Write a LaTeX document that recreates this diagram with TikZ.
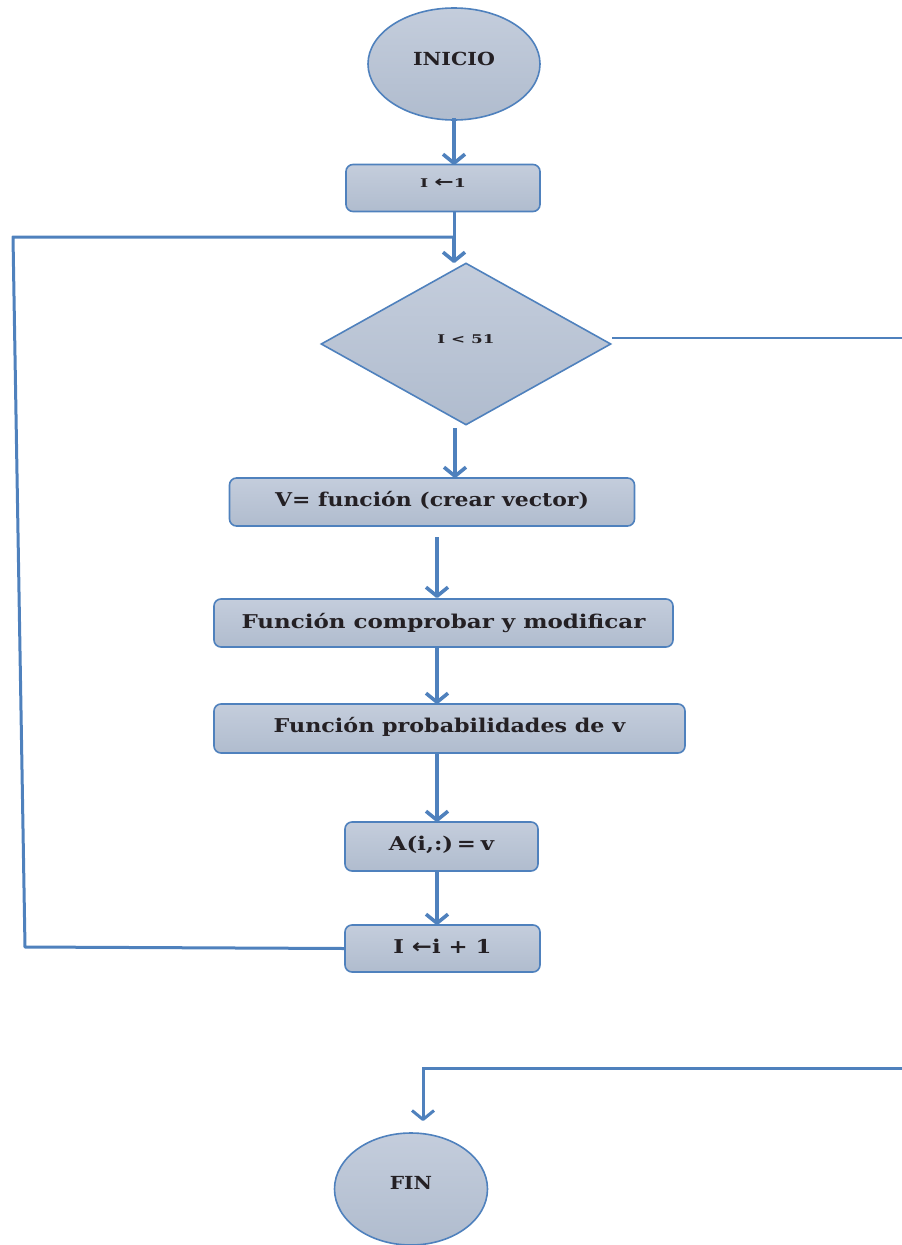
\documentclass[tikz,border=0pt]{standalone}
\usepackage{graphicx}
\usepackage{fontspec}
\setmainfont{DejaVu Serif}
\newfontfamily\symfont{DejaVu Sans}
\usetikzlibrary{shapes.geometric,arrows.meta}
\definecolor{edgeblue}{RGB}{79,129,189}
\definecolor{filltop}{RGB}{196,205,220}
\definecolor{fillbot}{RGB}{176,188,206}
\definecolor{inkdark}{RGB}{36,32,36}
% horizontally widened label text
\newcommand\widetxt[2]{\scalebox{#1}[1]{#2}}
\newcommand\larrow[1]{{\symfont\bfseries\fontsize{#1}{#1}\selectfont ←}}
\begin{document}
\begin{tikzpicture}[x=1pt,y=-1pt,
  shapebase/.style={draw=edgeblue,line width=1.6pt,top color=filltop,bottom color=fillbot,
    inner sep=0pt,text=inkdark,font=\bfseries},
  procbox/.style={shapebase,rectangle,rounded corners=7pt},
  term/.style={shapebase,ellipse},
  decide/.style={shapebase,diamond},
  bigtxt/.style={font=\bfseries\fontsize{19}{22}\selectfont},
  smalltxt/.style={font=\bfseries\fontsize{12}{14}\selectfont},
  flow/.style={draw=edgeblue,line width=3.6pt,
    -{Straight Barb[length=9pt,width=22pt,line join=round]}},
  link/.style={draw=edgeblue,line width=3pt},
  thin link/.style={draw=edgeblue,line width=2pt}]
\useasboundingbox (0,0) rectangle (902,1245);
\clip (0,0) rectangle (902,1245);

% terminals
\node[term,minimum width=172pt,minimum height=112pt,font=\bfseries\fontsize{18}{20}\selectfont]
  (inicio) at (454,64) {\raisebox{11pt}{\widetxt{1.14}{INICIO}}};
\node[term,minimum width=153pt,minimum height=112pt,font=\bfseries\fontsize{18}{20}\selectfont]
  (fin) at (411,1189) {\raisebox{12pt}{\widetxt{1.12}{FIN}}};

% process steps
\node[procbox,minimum width=194pt,minimum height=47pt,smalltxt]
  (init) at (443,188) {\raisebox{10pt}{\widetxt{1.45}{I \larrow{16}1}}};
\node[decide,minimum width=290pt,minimum height=162pt,smalltxt]
  (cond) at (466,344) {\raisebox{10pt}{\widetxt{1.4}{I {\symfont<} 51}}};
\node[procbox,minimum width=405pt,minimum height=48pt,bigtxt]
  (crear) at (432,502) {\raisebox{6pt}{\widetxt{1.155}{V= función (crear vector)}}};
\node[procbox,minimum width=459pt,minimum height=48pt,bigtxt]
  (comp) at (443.5,623) {\raisebox{4pt}{\widetxt{1.21}{Función comprobar y modificar}}};
\node[procbox,minimum width=471pt,minimum height=49pt,bigtxt]
  (prob) at (449.5,728.5) {\raisebox{7pt}{\widetxt{1.17}{Función probabilidades de v}}};
\node[procbox,minimum width=193pt,minimum height=49pt,bigtxt]
  (asig) at (441.5,846.5) {\raisebox{6pt}{\widetxt{1.2}{A(i,:)\hspace{3pt}=\hspace{4pt}v}}};
\node[procbox,minimum width=195pt,minimum height=47pt,bigtxt]
  (incr) at (442.5,948.5) {\raisebox{5pt}{\widetxt{1.2}{I \larrow{20}i + 1}}};

% loop and exit routing points
\coordinate (join) at (454,237);
\coordinate (loopbot) at (25,947);
\coordinate (looptop) at (13,237);
\coordinate (exitr) at (912,338);
\coordinate (exitb) at (912,1068);
\coordinate (exitc) at (423,1068);

% main flow
\draw[flow] (454,118) -- (454,165);
\draw[link] (454,212) -- (join);
\draw[flow] (join) -- (454,263);
\draw[flow] (455,428) -- (455,478);
\draw[flow] (437,537) -- (437,598);
\draw[flow] (437,647) -- (437,704);
\draw[flow] (437,753) -- (437,822);
\draw[flow] (437,871) -- (437,925);

% back edge to the condition
\draw[link,line join=round] (incr.west) -- (loopbot) -- (looptop) -- (join);

% exit of the loop towards FIN
\draw[thin link] (612,338) -- (exitr) -- (exitb);
\draw[flow,line width=3pt] (exitb) -- (exitc) -- (423,1121);
\end{tikzpicture}
\end{document}
